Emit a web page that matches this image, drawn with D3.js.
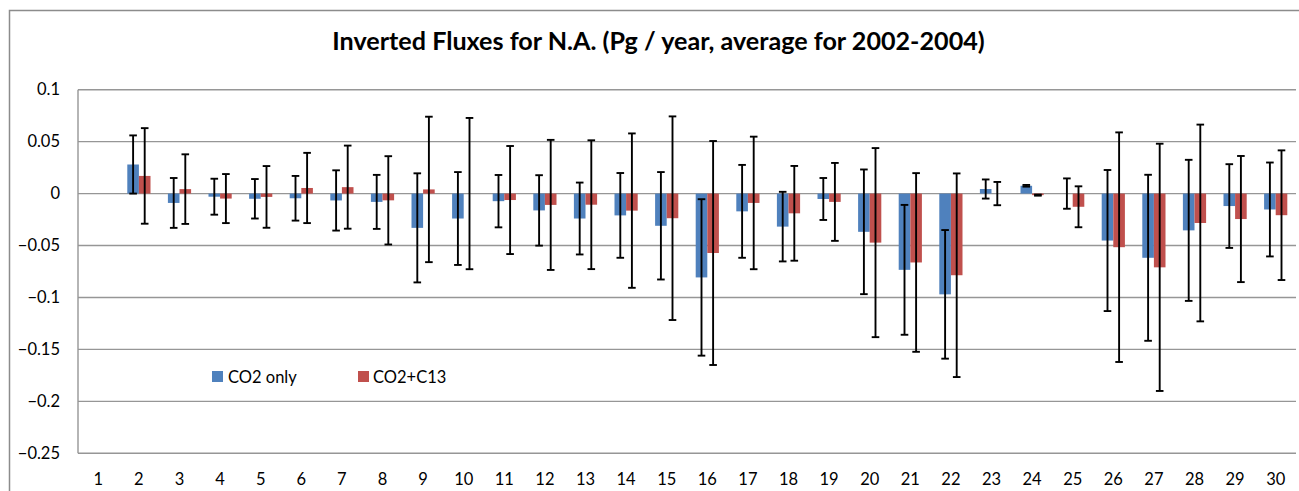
<!DOCTYPE html>
<html>
<head>
<meta charset="utf-8">
<script src="https://cdn.jsdelivr.net/npm/d3@7"></script>
<style>
  html, body { margin: 0; padding: 0; background: #fff; }
  svg { display: block; }
  text { font-family: Lato, "Open Sans", sans-serif; fill: #000; }
</style>
</head>
<body>
<svg id="chart" width="1299" height="491"></svg>
<script>
// Regions 1–30, mean inverted flux (Pg C / yr) and its uncertainty
const categories = d3.range(1, 31).map(String);

const co2Only = [null, 0.028, -0.009, -0.003, -0.005, -0.0045, -0.0066, -0.008, -0.033, -0.024,
  -0.0073, -0.0162, -0.024, -0.021, -0.031, -0.0807, -0.0171, -0.0318, -0.0052, -0.0368,
  -0.0734, -0.097, 0.0044, 0.0075, 0, -0.0452, -0.0618, -0.0354, -0.012, -0.0153];
const co2OnlyErr = [null, 0.028, 0.024, 0.0173, 0.019, 0.0215, 0.029, 0.026, 0.0525, 0.0447,
  0.0252, 0.0339, 0.0346, 0.0408, 0.0517, 0.0753, 0.0447, 0.0335, 0.0202, 0.060,
  0.0625, 0.0619, 0.0092, 0.0008, 0.0146, 0.0679, 0.0799, 0.0679, 0.0403, 0.0452];

const co2C13 = [null, 0.017, 0.0043, -0.0048, -0.0032, 0.0054, 0.0062, -0.0065, 0.004, 0,
  -0.0062, -0.0109, -0.0107, -0.0164, -0.0237, -0.0572, -0.009, -0.019, -0.008, -0.0472,
  -0.0663, -0.0786, 0, -0.0015, -0.0127, -0.0516, -0.071, -0.0283, -0.0245, -0.0208];
const co2C13Err = [null, 0.046, 0.0335, 0.0236, 0.0297, 0.0338, 0.040, 0.0425, 0.070, 0.0728,
  0.052, 0.0626, 0.062, 0.0743, 0.098, 0.1078, 0.0638, 0.0456, 0.0375, 0.091,
  0.086, 0.098, 0.0112, 0.0005, 0.0197, 0.1105, 0.119, 0.0947, 0.0607, 0.0624];

const yTicks = [0.1, 0.05, 0, -0.05, -0.1, -0.15, -0.2, -0.25];
const seriesNames = ["CO2 only", "CO2+C13"];
const seriesColors = ["#4f81bd", "#c0504d"];
const titleText = "Inverted Fluxes for N.A. (Pg / year, average for 2002-2004)";

const series = [
  { name: seriesNames[0], color: seriesColors[0], values: co2Only, errs: co2OnlyErr },
  { name: seriesNames[1], color: seriesColors[1], values: co2C13, errs: co2C13Err }
];

const svg = d3.select("#chart");
const plot = { left: 78, right: 1296, top: 89.7, bottom: 453.3 };

// chart frame
svg.append("rect")
  .attr("x", 9.5).attr("y", 10.5)
  .attr("width", 1320).attr("height", 520)
  .attr("fill", "#fff").attr("stroke", "#8c8c8c").attr("stroke-width", 1.5);

// title, fitted to its set width
const title = svg.append("text")
  .attr("x", 658.5).attr("y", 50)
  .attr("text-anchor", "middle")
  .attr("font-weight", "bold")
  .attr("font-size", 22)
  .text(titleText);
const tw = title.node().getComputedTextLength();
title.attr("font-size", 22 * 653 / tw);

const x = d3.scaleBand().domain(categories).range([plot.left, plot.right]).padding(0);
const y = d3.scaleLinear().domain([-0.25, 0.1]).range([plot.bottom, plot.top]);
const barW = x.bandwidth() / 3.5;

// horizontal gridlines
svg.append("g").selectAll("line")
  .data(yTicks)
  .join("line")
  .attr("x1", plot.left).attr("x2", plot.right)
  .attr("y1", d => y(d)).attr("y2", d => y(d))
  .attr("stroke", "#969696").attr("stroke-width", 1.4);

// left axis line
svg.append("line")
  .attr("x1", plot.left).attr("x2", plot.left)
  .attr("y1", plot.top).attr("y2", plot.bottom)
  .attr("stroke", "#969696").attr("stroke-width", 1.4);

// y axis labels
const yAxis = d3.axisLeft(y).tickValues(yTicks).tickSize(0).tickPadding(0)
  .tickFormat(d => d3.format("")(+d.toFixed(2)));
const yg = svg.append("g").attr("transform", `translate(${plot.left - 18},0)`).call(yAxis);
yg.select(".domain").remove();
yg.selectAll("text").attr("font-size", 16.5).attr("font-family", "Lato, sans-serif").attr("fill", "#000");

// x axis labels
const xAxis = d3.axisBottom(x).tickSize(0).tickPadding(0);
const xg = svg.append("g").attr("transform", `translate(0,${plot.bottom + 20})`).call(xAxis);
xg.select(".domain").remove();
xg.selectAll("text").attr("font-size", 16.5).attr("font-family", "Lato, sans-serif").attr("fill", "#000");

// bars
series.forEach((s, si) => {
  const pts = categories.map((c, i) => ({ c, v: s.values[i], e: s.errs[i] }))
    .filter(d => d.v !== null);
  const cx = d => x(d.c) + x.bandwidth() / 2 + (si - 0.5) * barW;

  svg.append("g").selectAll("rect")
    .data(pts)
    .join("rect")
    .attr("x", d => cx(d) - barW / 2)
    .attr("width", barW)
    .attr("y", d => y(Math.max(0, d.v)))
    .attr("height", d => Math.abs(y(d.v) - y(0)))
    .attr("fill", s.color);

  s.pts = pts; s.cx = cx;
});

// error bars on top
series.forEach(s => {
  const g = svg.append("g").attr("stroke", "#000").attr("stroke-width", 1.9);
  const cap = 3.8;
  s.pts.forEach(d => {
    const hi = y(d.v + d.e), lo = y(d.v - d.e), cx = s.cx(d);
    g.append("line").attr("x1", cx).attr("x2", cx).attr("y1", hi).attr("y2", lo);
    g.append("line").attr("x1", cx - cap).attr("x2", cx + cap).attr("y1", hi).attr("y2", hi);
    g.append("line").attr("x1", cx - cap).attr("x2", cx + cap).attr("y1", lo).attr("y2", lo);
  });
});

// legend
const legendPos = [{ sx: 212, tx: 228 }, { sx: 358, tx: 373 }];
const lg = svg.append("g");
series.forEach((s, i) => {
  lg.append("rect").attr("x", legendPos[i].sx).attr("y", 371)
    .attr("width", 11).attr("height", 11).attr("fill", s.color);
  lg.append("text").attr("x", legendPos[i].tx).attr("y", 382.5)
    .attr("font-size", 16.5).text(s.name);
});
</script>
</body>
</html>
